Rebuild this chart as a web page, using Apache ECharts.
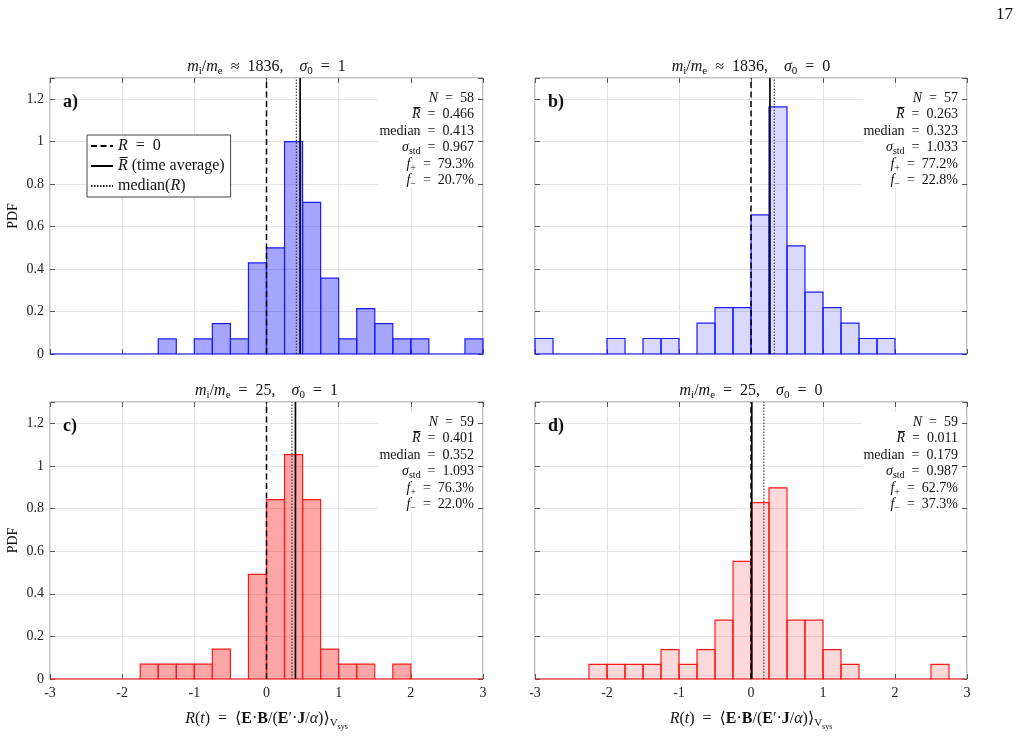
<!DOCTYPE html>
<html>
<head>
<meta charset="utf-8">
<script src="https://cdn.jsdelivr.net/npm/echarts@6/dist/echarts.min.js"></script>
<style>
html,body{margin:0;padding:0;background:#fff;}
#chart{width:1021px;height:754px;}
</style>
</head>
<body>
<div id="chart"></div>
<script>
// histogram bins (left edges), width 0.25
var binLeft = [-3,-2.75,-2.5,-2.25,-2,-1.75,-1.5,-1.25,-1,-0.75,-0.5,-0.25,0,0.25,0.5,0.75,1,1.25,1.5,1.75,2,2.25,2.5,2.75];
var binWidth = 0.25;

// PDF values
var pdfA = [0,0,0,0,0,0,0.071,0,0.071,0.143,0.071,0.429,0.5,1.0,0.714,0.357,0.071,0.214,0.143,0.071,0.071,0,0,0.071];
var pdfB = [0.073,0,0,0,0.073,0,0.073,0.073,0,0.145,0.218,0.218,0.655,1.164,0.509,0.291,0.218,0.145,0.073,0.073,0,0,0,0];
var pdfC = [0,0,0,0,0,0.070,0.070,0.070,0.070,0.140,0,0.491,0.842,1.053,0.842,0.140,0.070,0.070,0,0.070,0,0,0,0];
var pdfD = [0,0,0,0.069,0.069,0.069,0.069,0.138,0.069,0.138,0.276,0.552,0.828,0.897,0.276,0.276,0.138,0.069,0,0,0,0,0.069,0];

// statistics per panel
var countN = [58,57,59,59];
var meanR = [0.466,0.263,0.401,0.011];
var medianR = [0.413,0.323,0.352,0.179];
var stdR = ['0.967','1.033','1.093','0.987'];
var fPlus = ['79.3','77.2','76.3','62.7'];
var fMinus = ['20.7','22.8','22.0','37.3'];
var massRel = ['\u2248','\u2248','=','='];
var massVal = ['1836','1836','25','25'];
var sigma0 = [1,0,1,0];
var panelTag = ['a)','b)','c)','d)'];

var xMin = -3, xMax = 3, yMax = 1.3;

var serif = '"Liberation Serif", "DejaVu Serif", serif';
var sp = '\u2002';
var pdfs = [pdfA,pdfB,pdfC,pdfD];
var fills = ['rgba(0,0,255,0.35)','rgba(0,0,255,0.15)','rgba(255,0,0,0.35)','rgba(255,0,0,0.15)'];
var edges = ['#1a1aff','#1a1aff','#ff1a1a','#ff1a1a'];
var grids = [
    {left:50, top:78, width:433, height:276},
    {left:535, top:78, width:432, height:276},
    {left:50, top:402, width:433, height:277},
    {left:535, top:402, width:432, height:277}
];

var rich = {
    i:{fontFamily:serif, fontStyle:'italic', fontSize:14, color:'#111'},
    s:{fontFamily:serif, fontSize:10, color:'#111', padding:[8,0,0,0]}
};
var richBig = {
    i:{fontFamily:serif, fontStyle:'italic', fontSize:16, color:'#111'},
    s:{fontFamily:serif, fontSize:11, color:'#111', padding:[8,0,0,0]},
    b:{fontFamily:serif, fontWeight:'bold', fontSize:16, color:'#111'},
    t:{fontFamily:serif, fontSize:8, color:'#111', padding:[16,0,0,0]}
};

var chart = echarts.init(document.getElementById('chart'));

var xAxes = [], yAxes = [], series = [], graphics = [];
var tickStyle = {inside:true, length:5, lineStyle:{color:'#555', width:1}};

for (var i = 0; i < 4; i++) {
    var bottom = i >= 2, left = (i % 2 === 0);
    grids[i].show = true;
    grids[i].borderColor = '#858585';
    grids[i].borderWidth = 1;
    grids[i].backgroundColor = '#fff';

    xAxes.push({
        type:'value', gridIndex:i, min:xMin, max:xMax, interval:1,
        axisLine:{show:false, onZero:false}, axisTick:tickStyle,
        splitLine:{show:true, lineStyle:{color:'#e4e4e4', width:1}},
        axisLabel:{show:bottom, fontFamily:serif, fontSize:14, color:'#222', margin:7},
        name: bottom ? '{i|R}({i|t})' + sp + '=' + sp + '\u27e8{b|E}\u00b7{b|B}/({b|E}\u2032\u00b7{b|J}/{i|\u03b1})\u27e9{s|V}{t|sys}' : '',
        nameLocation:'middle', nameGap:28,
        nameTextStyle:{fontFamily:serif, fontSize:16, color:'#111', rich:richBig}
    });
    xAxes.push({
        type:'value', gridIndex:i, min:xMin, max:xMax, interval:1, position:'top',
        axisLine:{show:false, onZero:false}, axisTick:tickStyle, splitLine:{show:false}, axisLabel:{show:false}
    });
    yAxes.push({
        type:'value', gridIndex:i, min:0, max:yMax, interval:0.2,
        axisLine:{show:false, onZero:false}, axisTick:tickStyle,
        splitLine:{show:true, lineStyle:{color:'#e4e4e4', width:1}},
        axisLabel:{show:left, fontFamily:serif, fontSize:14, color:'#222', margin:6,
            formatter:function(v){ return v > 1.25 ? '' : String(+v.toFixed(1)); }},
        name: left ? 'PDF' : '', nameLocation:'middle', nameRotate:90, nameGap:30,
        nameTextStyle:{fontFamily:serif, fontSize:14, color:'#111'}
    });
    yAxes.push({
        type:'value', gridIndex:i, min:0, max:yMax, interval:0.2, position:'right',
        axisLine:{show:false, onZero:false}, axisTick:tickStyle, splitLine:{show:false}, axisLabel:{show:false}
    });

    (function(k){
        series.push({
            type:'custom', xAxisIndex:2*k, yAxisIndex:2*k, animation:false, silent:true, z:2,
            data: binLeft.map(function(b, j){ return [b, b + binWidth, pdfs[k][j]]; }),
            encode:{x:[0,1], y:2},
            renderItem:function(params, api){
                var p0 = api.coord([api.value(0), api.value(2)]);
                var p1 = api.coord([api.value(1), 0]);
                return {type:'rect',
                    shape:{x:p0[0], y:p0[1], width:p1[0]-p0[0], height:p1[1]-p0[1]},
                    style:{fill:fills[k], stroke:edges[k], lineWidth:1.2}};
            }
        });
    })(i);

    series.push({type:'line', name:'zero', xAxisIndex:2*i, yAxisIndex:2*i, data:[[0,0],[0,yMax]],
        symbol:'none', silent:true, animation:false, z:5, itemStyle:{color:'#000'},
        lineStyle:{color:'#000', width:1.5, type:[6,3.5]}});
    series.push({type:'line', name:'mean', xAxisIndex:2*i, yAxisIndex:2*i, data:[[meanR[i],0],[meanR[i],yMax]],
        symbol:'none', silent:true, animation:false, z:5, itemStyle:{color:'#000'},
        lineStyle:{color:'#000', width:1.7, type:'solid'}});
    series.push({type:'line', name:'median', xAxisIndex:2*i, yAxisIndex:2*i, data:[[medianR[i],0],[medianR[i],yMax]],
        symbol:'none', silent:true, animation:false, z:5, itemStyle:{color:'#000'},
        lineStyle:{color:'#222', width:1, type:[1.5,1.5]}});

    var g = grids[i];
    var cx = g.left + g.width / 2;
    // panel title
    graphics.push({type:'text', x:cx, y:g.top - 11, z:10,
        style:{text:'{i|m}{s|i}/{i|m}{s|e}' + sp + massRel[i] + sp + massVal[i] + ',\u2003{i|\u03c3}{s|0}' + sp + '=' + sp + sigma0[i],
            rich:richBig, fontFamily:serif, fontSize:16, fill:'#111', align:'center', verticalAlign:'middle'}});
    // panel tag
    graphics.push({type:'text', x:g.left + 13, y:g.top + 24, z:10,
        style:{text:panelTag[i], fontFamily:serif, fontWeight:'bold', fontSize:18, fill:'#111', verticalAlign:'middle'}});
    // stats box
    var rx = g.left + g.width - 9;
    var ry = g.top + 20;
    graphics.push({type:'rect', z:6, shape:{x:g.left + g.width - 105, y:g.top + 10, width:100, height:100},
        style:{fill:'#fff'}});
    var lines = [
        '{i|N}' + sp + '=' + sp + countN[i],
        '{i|R\u0305}' + sp + '=' + sp + meanR[i].toFixed(3),
        'median' + sp + '=' + sp + medianR[i].toFixed(3),
        '{i|\u03c3}{s|std}' + sp + '=' + sp + stdR[i],
        '{i|f}{s|+}' + sp + '=' + sp + fPlus[i] + '%',
        '{i|f}{s|\u2212}' + sp + '=' + sp + fMinus[i] + '%'
    ];
    for (var l = 0; l < lines.length; l++) {
        graphics.push({type:'text', x:rx, y:ry + l * 16.5, z:10,
            style:{text:lines[l], rich:rich, fontFamily:serif, fontSize:14, fill:'#111', align:'right', verticalAlign:'middle'}});
    }
}

// page number
graphics.push({type:'text', x:1013, y:15, z:10,
    style:{text:'17', fontFamily:serif, fontSize:17, fill:'#111', align:'right', verticalAlign:'middle'}});

var legendNames = {zero:'{i|R}' + sp + '=' + sp + '0', mean:'{i|R\u0305} (time average)', median:'median({i|R})'};

chart.setOption({
    animation:false,
    backgroundColor:'#fff',
    grid:grids,
    xAxis:xAxes,
    yAxis:yAxes,
    legend:{
        data:['zero','mean','median'], left:87, top:135, orient:'vertical',
        itemGap:4, itemWidth:22, itemHeight:14, padding:[3,6,3,3],
        borderColor:'#444', borderWidth:1, backgroundColor:'#fff', selectedMode:false,
        itemStyle:{color:'rgba(0,0,0,0)', borderWidth:0},
        formatter:function(n){ return legendNames[n]; },
        textStyle:{fontFamily:serif, fontSize:16, color:'#111',
            rich:{i:{fontFamily:serif, fontStyle:'italic', fontSize:16, color:'#111'}}}
    },
    series:series,
    graphic:graphics
});
</script>
</body>
</html>
